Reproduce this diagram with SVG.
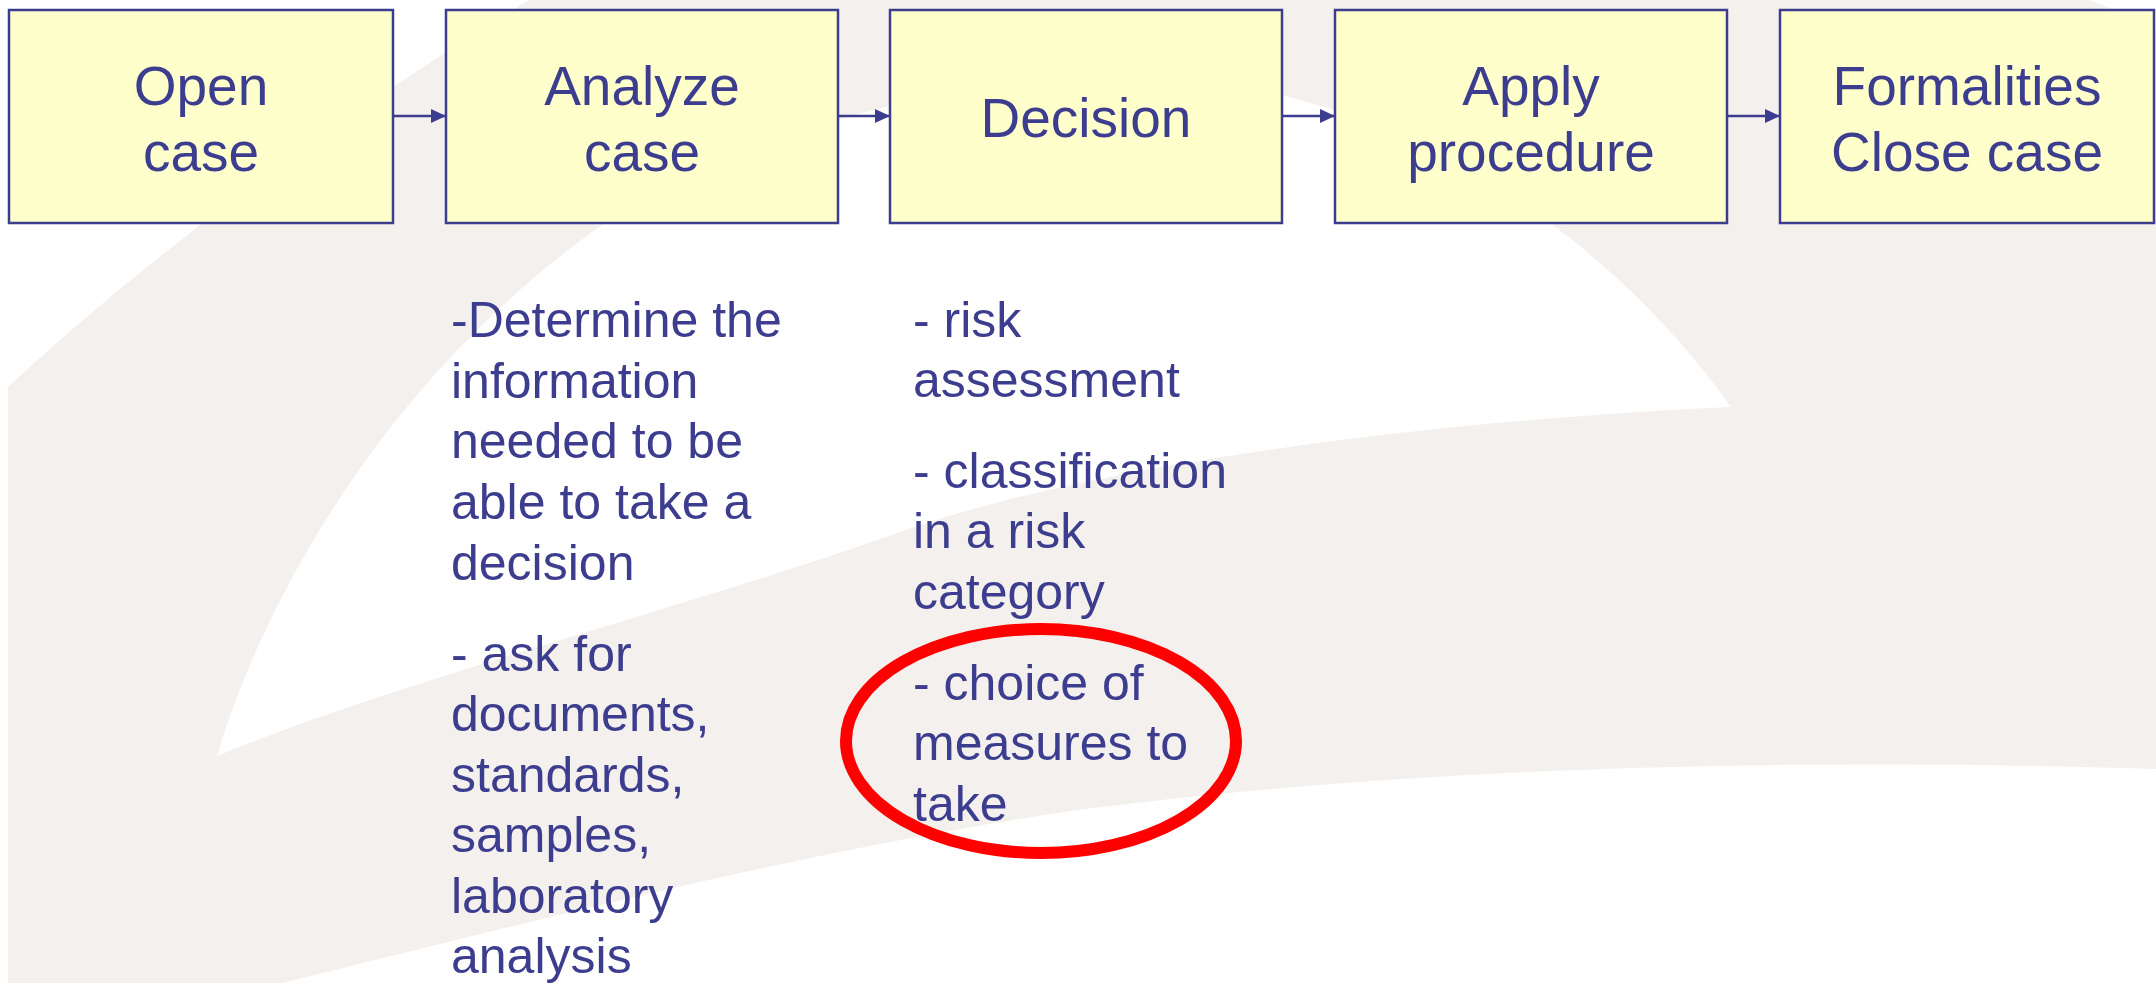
<svg xmlns="http://www.w3.org/2000/svg" width="2156" height="983" viewBox="0 0 2156 983">
<style>
.box{fill:#FFFFCC;stroke:#3D3D8F;stroke-width:2.5}
.lbl{font-family:"Liberation Sans",Arial,sans-serif;font-size:55px;fill:#3D3D8F;text-anchor:middle}
.body{font-family:"Liberation Sans",Arial,sans-serif;font-size:50px;fill:#3D3D8F}
.conn{stroke:#3D3D8F;stroke-width:2.5;fill:none}
.bgw{fill:#FFFFFF}
</style>
<defs>
<marker id="arr" markerWidth="16" markerHeight="14" refX="15" refY="7" orient="auto" markerUnits="userSpaceOnUse">
<path d="M0,0 L15,7 L0,14 Z" fill="#3D3D8F"/>
</marker>
</defs>
<g id="background">
<rect x="0" y="0" width="2156" height="983" fill="#FFFFFF"/>
<rect x="8" y="0" width="2148" height="983" fill="#F3F0ED"/>
<path class="bgw" d="M8,0 L529,0 Q220,190 8,387 Z"/>
<path class="bgw" d="M2089,0 L2156,0 L2156,30 Q2120,12 2089,0 Z"/>
<path class="bgw" d="M217,756 C260,610 380,380 605,223 C720,150 900,85 1100,75 C1400,70 1620,250 1731,407 C1450,420 1100,460 894,534 C700,604 400,680 217,756 Z"/>
<path class="bgw" d="M282,983 C500,930 800,850 1078,810 C1350,775 1700,755 2156,769 L2156,983 Z"/>
</g>
<g id="connectors">
<line class="conn" x1="393" y1="116" x2="446" y2="116" marker-end="url(#arr)"/>
<line class="conn" x1="838" y1="116" x2="890" y2="116" marker-end="url(#arr)"/>
<line class="conn" x1="1282" y1="116" x2="1335" y2="116" marker-end="url(#arr)"/>
<line class="conn" x1="1727" y1="116" x2="1780" y2="116" marker-end="url(#arr)"/>
</g>
<g id="open-case">
<rect class="box" x="9" y="10" width="384" height="213"/>
<text class="lbl" x="201" y="105"><tspan x="201">Open</tspan><tspan x="201" y="171">case</tspan></text>
</g>
<g id="analyze-case">
<rect class="box" x="446" y="10" width="392" height="213"/>
<text class="lbl" x="642" y="105"><tspan x="642">Analyze</tspan><tspan x="642" y="171">case</tspan></text>
</g>
<g id="decision">
<rect class="box" x="890" y="10" width="392" height="213"/>
<text class="lbl" x="1086" y="137">Decision</text>
</g>
<g id="apply-procedure">
<rect class="box" x="1335" y="10" width="392" height="213"/>
<text class="lbl" x="1531" y="105"><tspan x="1531">Apply</tspan><tspan x="1531" y="171">procedure</tspan></text>
</g>
<g id="formalities-close-case">
<rect class="box" x="1780" y="10" width="374" height="213"/>
<text class="lbl" x="1967" y="105"><tspan x="1967">Formalities</tspan><tspan x="1967" y="171">Close case</tspan></text>
</g>
<g id="analyze-notes">
<text class="body">
<tspan x="451" y="337">-Determine the</tspan>
<tspan x="451" y="398">information</tspan>
<tspan x="451" y="458">needed to be</tspan>
<tspan x="451" y="519">able to take a</tspan>
<tspan x="451" y="580">decision</tspan>
<tspan x="451" y="671">- ask for</tspan>
<tspan x="451" y="731">documents,</tspan>
<tspan x="451" y="792">standards,</tspan>
<tspan x="451" y="852">samples,</tspan>
<tspan x="451" y="913">laboratory</tspan>
<tspan x="451" y="973">analysis</tspan>
</text>
</g>
<g id="decision-notes">
<text class="body">
<tspan x="913" y="337">- risk</tspan>
<tspan x="913" y="397">assessment</tspan>
<tspan x="913" y="488">- classification</tspan>
<tspan x="913" y="548">in a risk</tspan>
<tspan x="913" y="609">category</tspan>
<tspan x="913" y="700">- choice of</tspan>
<tspan x="913" y="760">measures to</tspan>
<tspan x="913" y="821">take</tspan>
</text>
</g>
<g id="highlight">
<ellipse cx="1041" cy="741" rx="195" ry="112" fill="none" stroke="#FF0000" stroke-width="12"/>
</g>
</svg>
